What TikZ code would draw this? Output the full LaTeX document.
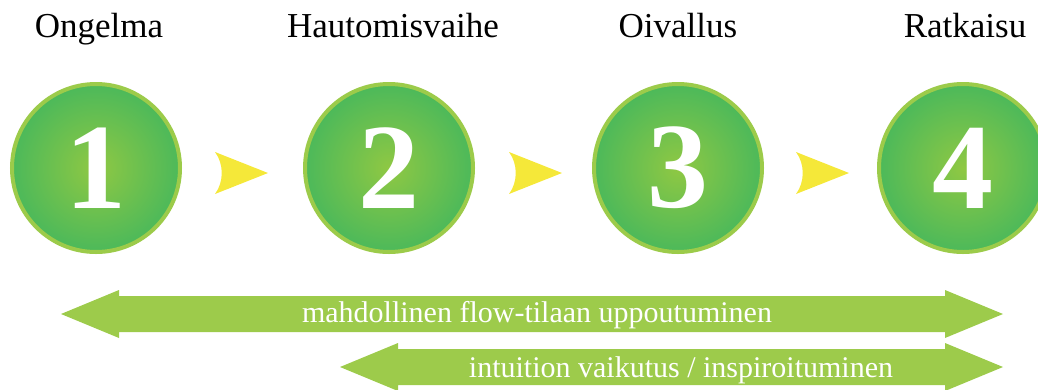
\documentclass[tikz,border=0pt]{standalone}
\usepackage{fontspec}
\setmainfont{Liberation Serif}
\usepackage{tikz}
\usetikzlibrary{positioning}
\definecolor{StageRing}{HTML}{9CCB4A}
\definecolor{StageInner}{HTML}{8FC843}
\definecolor{StageOuter}{HTML}{4CB95A}
\definecolor{Chevron}{HTML}{F5E839}
\definecolor{BandGreen}{HTML}{9DCB4B}
\newcommand{\drawchevron}[2]{%
  \path[fill=Chevron]
    ({#1},{#2-21}) -- ({#1+53},{#2}) -- ({#1},{#2+21})
    .. controls ({#1+9},{#2+9}) and ({#1+9},{#2-9}) .. cycle;
}
\newcommand{\drawband}[3]{%
  \path[fill=BandGreen]
    ({#1},{#3}) -- ({#1+58},{#3-24}) -- ({#1+58},{#3-18})
    -- ({#2-58},{#3-18}) -- ({#2-58},{#3-24}) -- ({#2},{#3})
    -- ({#2-58},{#3+24}) -- ({#2-58},{#3+18}) -- ({#1+58},{#3+18})
    -- ({#1+58},{#3+24}) -- cycle;
}
\tikzset{
  stage/.style={circle,minimum size=168pt,inner sep=0pt,
    inner color=StageInner,outer color=StageOuter,
    draw=StageRing,line width=4pt,text=white,
    font=\fontsize{122}{122}\selectfont\bfseries},
  stagelabel/.style={anchor=base,inner sep=0pt,
    font=\fontsize{35}{35}\selectfont,text=black},
  bandlabel/.style={anchor=base,inner sep=0pt,
    font=\fontsize{30}{30}\selectfont,text=white}
}
\begin{document}
\begin{tikzpicture}[x=1pt,y=-1pt,line join=miter]
    \useasboundingbox (0,0) rectangle (1038,389);
    \clip (0,0) rectangle (1038,389);
    % stages
    \node[stage] (s1) at (96,168) {1};
    \node[stage] (s2) at (389,168) {2};
    \node[stage] (s3) at (678,168) {3};
    \node[stage] (s4) at (963,168) {4};
    \node[stagelabel] (l1) at (99,37) {Ongelma};
    \node[stagelabel] (l2) at (393,37) {Hautomisvaihe};
    \node[stagelabel] (l3) at (678,37) {Oivallus};
    \node[stagelabel] (l4) at (965,37) {Ratkaisu};
    % chevrons
    \drawchevron{215}{173}
    \drawchevron{509}{173}
    \drawchevron{796}{173}
    % bands
    \drawband{61}{1003}{314}
    \node[bandlabel] (b1) at (537,322) {mahdollinen flow-tilaan uppoutuminen};
    \drawband{340}{1003}{367}
    \node[bandlabel] (b2) at (681,377) {intuition vaikutus / inspiroituminen};
\end{tikzpicture}
\end{document}
